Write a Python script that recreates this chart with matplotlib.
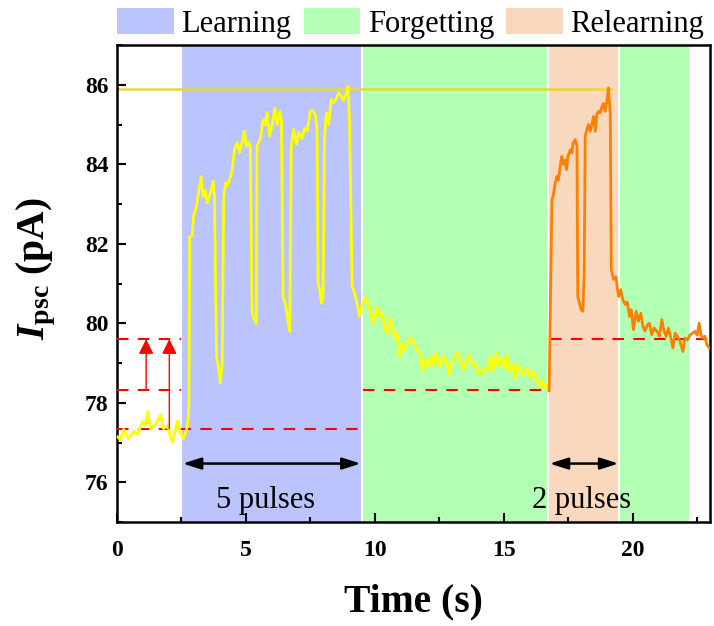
import numpy as np
import matplotlib
matplotlib.use("Agg")
import matplotlib.pyplot as plt
from matplotlib.patches import Patch
from matplotlib.ticker import MultipleLocator

plt.rcParams['font.family'] = ['Liberation Serif', 'DejaVu Serif']
plt.rcParams['mathtext.fontset'] = 'custom'
plt.rcParams['mathtext.it'] = 'Liberation Serif:bold:italic'
plt.rcParams['mathtext.rm'] = 'Liberation Serif:bold'
plt.rcParams['mathtext.bf'] = 'Liberation Serif:bold'

# learning / first forgetting trace (yellow)
t_learn = [0.00, 0.14, 0.25, 0.45, 0.64, 0.79, 0.99, 1.10, 1.18, 1.30, 1.49, 1.69, 1.80, 1.96,
           2.15, 2.27, 2.34, 2.46, 2.58, 2.73, 2.79, 2.82, 2.91, 2.97, 3.08, 3.16, 3.26, 3.34,
           3.42, 3.50, 3.62, 3.73, 3.78, 3.86, 3.95, 4.01, 4.08, 4.14, 4.21, 4.28, 4.36, 4.47,
           4.55, 4.66, 4.75, 4.85, 4.94, 5.02, 5.10, 5.17, 5.24, 5.30, 5.40, 5.43, 5.56, 5.67,
           5.76, 5.82, 5.92, 6.02, 6.12, 6.21, 6.31, 6.38, 6.44, 6.53, 6.62, 6.70, 6.76, 6.85,
           6.96, 7.05, 7.18, 7.28, 7.38, 7.50, 7.60, 7.69, 7.76, 7.80, 7.86, 7.93, 7.99, 8.05,
           8.12, 8.21, 8.30, 8.40, 8.51, 8.60, 8.73, 8.79, 8.90, 8.96, 9.02, 9.12, 9.21, 9.31,
           9.41, 9.50, 9.57, 9.67, 9.76, 9.85, 9.95, 10.09, 10.21, 10.29, 10.38, 10.47, 10.57,
           10.67, 10.77, 10.86, 10.96, 11.05, 11.14, 11.25, 11.35, 11.45, 11.57, 11.67, 11.76,
           11.85, 11.96, 12.09, 12.18, 12.27, 12.38, 12.51, 12.60, 12.70, 12.78, 12.90, 12.99,
           13.08, 13.16, 13.25, 13.31, 13.44, 13.55, 13.64, 13.77, 13.86, 13.96, 14.06, 14.16,
           14.28, 14.37, 14.48, 14.58, 14.71, 14.80, 14.93, 15.06, 15.12, 15.22, 15.35, 15.45,
           15.53, 15.64, 15.77, 15.90, 16.03, 16.15, 16.27, 16.37, 16.48, 16.61, 16.67, 16.74]
i_learn = [77.15, 77.07, 77.33, 77.10, 77.28, 77.20, 77.53, 77.45, 77.77, 77.35, 77.45, 77.70,
           77.35, 77.42, 77.00, 77.35, 77.55, 77.25, 77.10, 77.40, 77.90, 82.18, 82.20, 82.70,
           82.94, 83.28, 83.69, 83.19, 83.35, 83.03, 83.28, 83.57, 83.20, 79.17, 78.83, 78.50,
           79.00, 83.19, 83.53, 83.45, 83.60, 83.86, 84.36, 84.54, 84.30, 84.55, 84.83, 84.45,
           84.55, 84.45, 80.26, 80.14, 80.00, 84.45, 84.64, 85.12, 84.99, 85.30, 84.70, 85.00,
           85.42, 85.00, 85.33, 85.10, 80.67, 80.50, 80.09, 79.80, 84.45, 84.87, 84.50, 84.80,
           84.65, 84.90, 84.85, 85.33, 85.35, 85.25, 84.90, 81.01, 80.85, 80.50, 80.67, 84.70,
           85.30, 85.00, 85.62, 85.55, 85.66, 85.79, 85.70, 85.60, 85.80, 85.96, 85.04, 80.93,
           80.77, 80.50, 80.17, 80.42, 80.59, 80.63, 80.42, 80.25, 80.00, 80.42, 80.17, 80.25,
           79.84, 79.76, 80.13, 79.95, 79.63, 79.75, 79.17, 79.50, 79.33, 79.45, 79.63, 79.60,
           79.42, 79.29, 79.25, 78.79, 79.09, 78.92, 79.17, 78.96, 79.25, 78.90, 79.09, 79.17,
           79.00, 78.70, 79.04, 79.13, 79.25, 79.21, 79.04, 78.84, 79.04, 79.21, 78.96, 79.00,
           78.84, 78.71, 78.80, 78.88, 78.80, 79.17, 78.80, 79.25, 78.90, 79.13, 78.88, 79.21,
           78.80, 78.96, 78.62, 78.96, 78.80, 78.71, 78.88, 78.62, 78.79, 78.62, 78.41, 78.54,
           78.38, 78.46, 78.30]

# relearning trace (orange)
t_relearn = [16.76, 16.87, 16.93, 17.00, 17.06, 17.12, 17.19, 17.25, 17.32, 17.38, 17.43, 17.49,
             17.58, 17.64, 17.69, 17.77, 17.84, 17.87, 17.94, 18.00, 18.07, 18.12, 18.16, 18.22,
             18.29, 18.35, 18.42, 18.48, 18.55, 18.61, 18.67, 18.74, 18.81, 18.87, 18.93, 19.00,
             19.06, 19.13, 19.17, 19.26, 19.35, 19.45, 19.54, 19.62, 19.71, 19.79, 19.88, 19.94,
             20.03, 20.14, 20.22, 20.32, 20.40, 20.48, 20.57, 20.65, 20.74, 20.83, 20.94, 21.04,
             21.13, 21.22, 21.30, 21.39, 21.48, 21.56, 21.65, 21.74, 21.84, 21.95, 22.03, 22.12,
             22.23, 22.33, 22.42, 22.50, 22.58, 22.65, 22.72, 22.80, 22.88, 22.97]
i_relearn = [78.30, 83.10, 83.25, 83.53, 83.69, 83.60, 83.95, 84.20, 84.00, 84.10, 83.87, 84.20,
             84.36, 84.28, 84.53, 84.62, 84.45, 80.67, 80.50, 80.34, 80.30, 81.30, 84.70, 84.87,
             85.00, 84.83, 85.00, 85.20, 84.83, 85.25, 85.33, 85.29, 85.45, 85.53, 85.33, 85.58,
             85.92, 85.29, 81.35, 81.10, 81.17, 80.67, 80.84, 80.59, 80.47, 80.53, 80.17, 80.34,
             79.84, 80.30, 80.05, 80.25, 79.92, 79.80, 79.96, 80.00, 79.71, 79.88, 79.80, 79.67,
             80.09, 79.80, 79.67, 79.88, 79.63, 79.38, 79.75, 79.67, 79.54, 79.29, 79.63, 79.58,
             79.71, 79.75, 79.80, 79.70, 80.00, 79.71, 79.63, 79.67, 79.46, 79.38]

# phase shading: (start, end, colour)
phase_names = ['Learning', 'Forgetting', 'Relearning']
phase_colors = ['#BBC4FC', '#B3FFB3', '#FAD8BE']
phase_start = [2.52, 9.56, 16.77, 19.52]
phase_end = [9.45, 16.66, 19.43, 22.20]
phase_kind = [0, 1, 2, 1]

# reference levels
peak_level = 85.9
base_level = 77.35
forget_level = 78.33
relearn_level = 79.6

# arrows, annotations
arrow_x = [1.13, 2.03]
arrow_from = [78.33, 77.35]
pulse_spans = [(2.55, 9.45), (16.78, 19.45)]
pulse_labels = ['5 pulses', '2 pulses']
pulse_text_x = [5.77, 18.0]


def main():
    fig = plt.figure(figsize=(7.14, 6.26), dpi=100)
    ax = fig.add_axes([117 / 714, 1 - 522 / 626, 593 / 714, 477 / 626])

    for s, e, k in zip(phase_start, phase_end, phase_kind):
        ax.axvspan(s, e, color=phase_colors[k], lw=0, zorder=0)

    ax.plot([0, 19.2], [peak_level, peak_level], color='#E6D83C', lw=1.8, zorder=2)

    # dashed reference levels
    dash = (0, (5.5, 4.5))
    ax.plot([0, 9.45], [base_level, base_level], color='red', lw=1.5, ls=dash, zorder=3)
    ax.plot([0, 2.5], [forget_level, forget_level], color='red', lw=1.5, ls=dash, zorder=3)
    ax.plot([9.56, 16.75], [forget_level, forget_level], color='red', lw=1.5, ls=dash, zorder=3)
    ax.plot([0, 2.5], [relearn_level, relearn_level], color='red', lw=1.5, ls=dash, zorder=3)
    ax.plot([16.8, 23], [relearn_level, relearn_level], color='red', lw=1.5, ls=dash, zorder=3)

    ax.plot(t_learn, i_learn, color='#FFFF00', lw=2.0, zorder=4)
    ax.plot(t_relearn, i_relearn, color='#FF8000', lw=2.0, zorder=4)

    for x, y0 in zip(arrow_x, arrow_from):
        ax.annotate('', xy=(x, relearn_level), xytext=(x, y0),
                    arrowprops=dict(arrowstyle='-|>,head_width=0.45,head_length=0.9',
                                    color='red', lw=1.0, shrinkA=0, shrinkB=0), zorder=5)

    for (s, e), lab, tx in zip(pulse_spans, pulse_labels, pulse_text_x):
        ax.annotate('', xy=(e, 76.47), xytext=(s, 76.47),
                    arrowprops=dict(arrowstyle='<|-|>,head_width=0.35,head_length=1.1',
                                    color='black', lw=1.8, shrinkA=0, shrinkB=0), zorder=5)
        ax.text(tx, 75.55, lab, ha='center', va='center', fontsize=22, zorder=5)

    ax.set_xlim(0, 23)
    ax.set_ylim(75, 87)
    ax.xaxis.set_major_locator(MultipleLocator(5))
    ax.xaxis.set_minor_locator(MultipleLocator(2.5))
    ax.yaxis.set_major_locator(MultipleLocator(2))
    ax.yaxis.set_minor_locator(MultipleLocator(1))
    ax.tick_params(which='both', direction='in', width=1.5, top=False, right=False)
    ax.tick_params(which='major', length=6.5, labelsize=17)
    ax.tick_params(which='minor', length=3.5)
    ax.tick_params(axis='x', pad=13)
    ax.tick_params(axis='y', pad=6)
    for lab in ax.get_xticklabels() + ax.get_yticklabels():
        lab.set_fontweight('bold')
    for sp in ax.spines.values():
        sp.set_linewidth(1.8)

    ax.set_xlabel('Time (s)', fontsize=28.5, fontweight='bold')
    ax.xaxis.set_label_coords(0.5, -0.128)
    ax.xaxis.label.set_va('top')
    ax.set_ylabel(r'$I_{\rm psc}$ (pA)', fontsize=28.5, fontweight='bold')
    ax.yaxis.set_label_coords(-0.1, 0.53)

    handles = [Patch(facecolor=c, edgecolor='none') for c in phase_colors]
    fig.legend(handles, phase_names, loc='upper left', bbox_to_anchor=(117 / 714, 1 - 8 / 626),
               ncol=3, frameon=False, fontsize=22, borderpad=0, borderaxespad=0,
               handlelength=1.85, handleheight=0.95, handletextpad=0.25, columnspacing=0.4)

    fig.savefig('out.png', dpi=100)


if __name__ == "__main__":
    main()
